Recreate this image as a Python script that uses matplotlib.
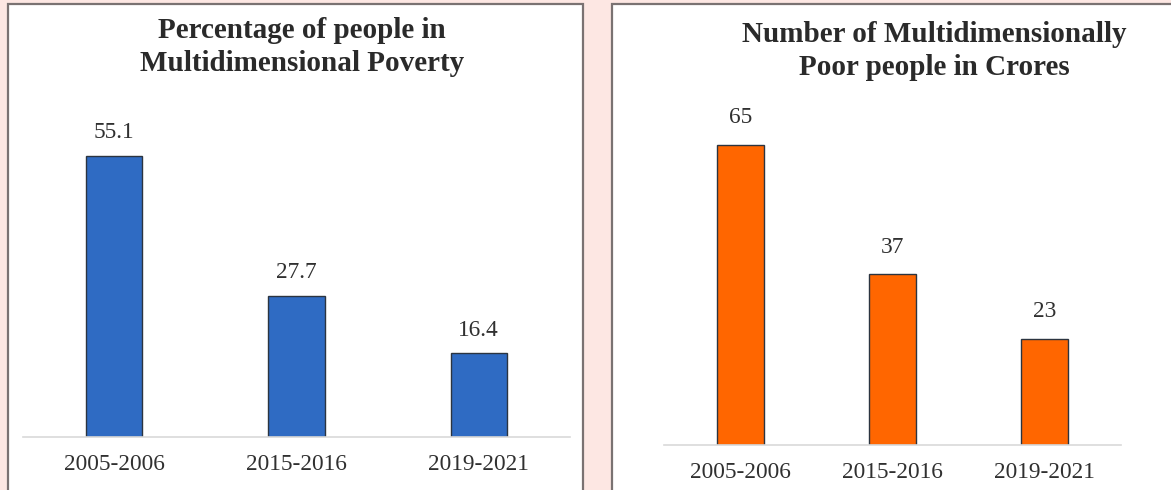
import matplotlib
matplotlib.use("Agg")
import matplotlib.pyplot as plt
from matplotlib.patches import Rectangle

years = ["2005-2006", "2015-2016", "2019-2021"]
pct_poor = [55.1, 27.7, 16.4]
num_poor = [65, 37, 23]
pct_labels = ["55.1", "27.7", "16.4"]
num_labels = ["65", "37", "23"]

plt.rcParams['font.family'] = ['Liberation Serif', 'DejaVu Serif']

W, H = 1171, 490
fig = plt.figure(figsize=(W / 100, H / 100), dpi=100)
fig.patch.set_facecolor('#fde7e3')

# white panels with grey frame (pixel coords -> figure fraction)
def px(x0, y0, x1, y1):
    return [x0 / W, 1 - y1 / H, (x1 - x0) / W, (y1 - y0) / H]

for x0, x1 in [(8, 583), (612, 1200)]:
    fig.patches.append(Rectangle((x0 / W, -0.1), (x1 - x0) / W, 1 - 4 / H + 0.1,
                                 transform=fig.transFigure, facecolor='white',
                                 edgecolor='#7a7272', linewidth=1.6, zorder=-10))


def panel(rect, vals, labs, color, ymax, title, title_xy, lab_off):
    ax = fig.add_axes(rect)
    ax.patch.set_alpha(0)
    ax.bar(range(3), vals, width=0.31, color=color, edgecolor='#2b3440', linewidth=1.0, zorder=2)
    ax.set_xlim(-0.5, 2.5)
    ax.set_ylim(0, ymax)
    for s in ['top', 'right', 'left']:
        ax.spines[s].set_visible(False)
    ax.spines['bottom'].set_color('#d9d9d9')
    ax.spines['bottom'].set_linewidth(1.2)
    ax.set_yticks([])
    ax.set_xticks(range(3))
    ax.set_xticklabels(years, fontsize=16.8, color='#303030')
    ax.tick_params(axis='x', length=0, pad=12)
    for i, v in enumerate(vals):
        ax.annotate(labs[i], (i, v), xytext=(0, lab_off), textcoords='offset pixels',
                    ha='center', va='center', fontsize=16.8, color='#303030')
    fig.text(title_xy[0] / W, 1 - title_xy[1] / H, title, ha='center', va='center',
             fontsize=21, fontweight='bold', color='#2a2a2a', linespacing=1.3)
    return ax


# left: baseline y=437, x 23..570, 5.1 px per unit
panel(px(23, 437 - 60 * 5.1, 570, 437), pct_poor, pct_labels, '#2f6bc3', 60,
      "Percentage of people in\nMultidimensional Poverty", (302, 47), 23)

# right: baseline y=445, x 664..1121, 4.62 px per unit
panel(px(664, 445 - 70 * 4.62, 1121, 445), num_poor, num_labels, '#ff6600', 70,
      "Number of Multidimensionally\nPoor people in Crores", (934, 51), 27)

fig.savefig("out.png", dpi=100, facecolor=fig.get_facecolor())
